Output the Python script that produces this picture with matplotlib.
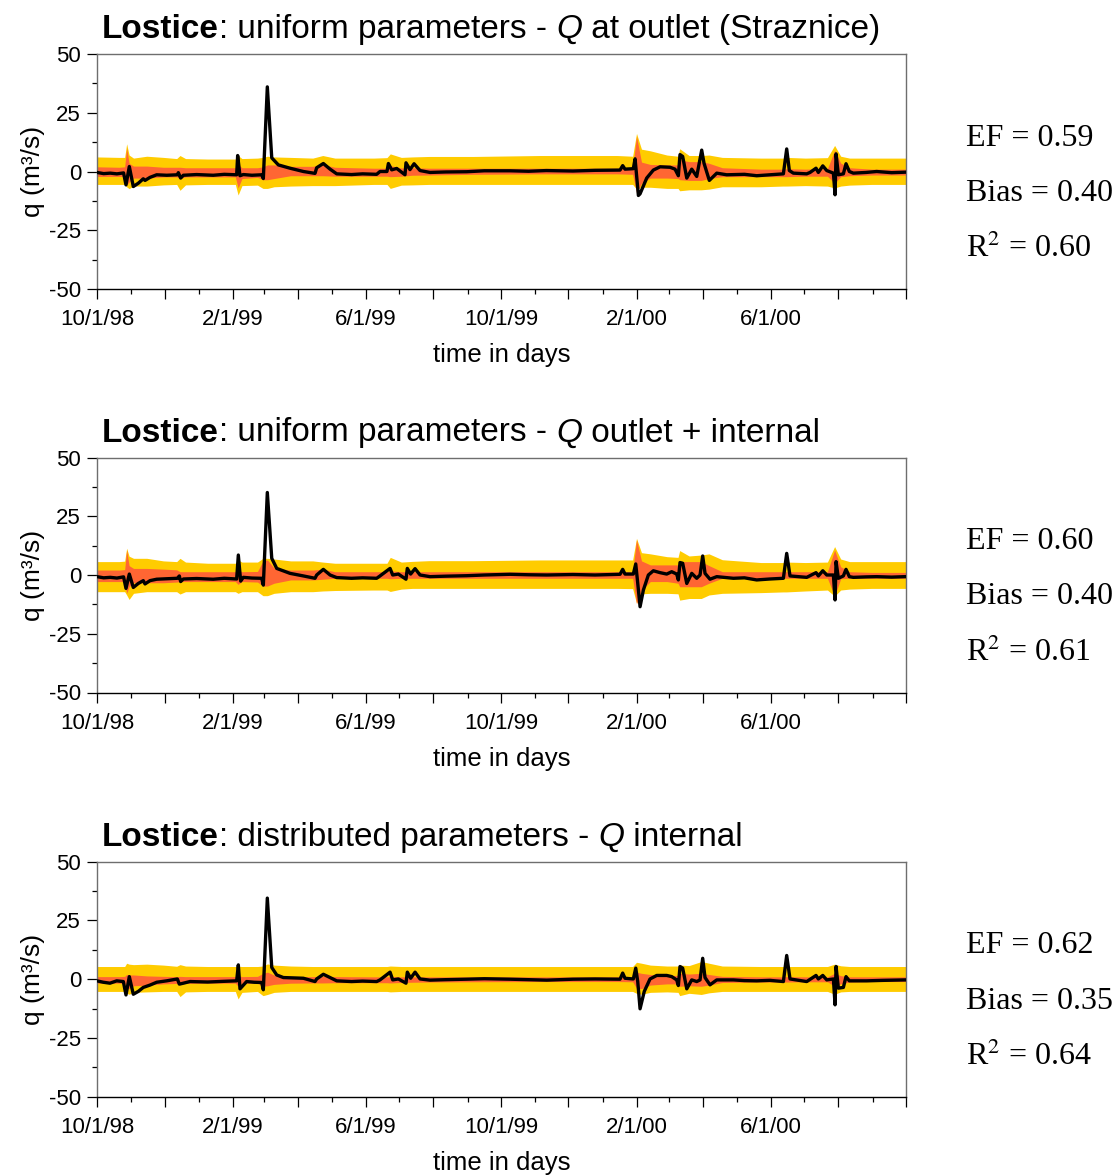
import datetime as dt
import matplotlib
matplotlib.use("Agg")
import matplotlib.pyplot as plt
import matplotlib.dates as mdates
from matplotlib.ticker import FixedLocator, FuncFormatter, NullFormatter

plt.rcParams['font.family'] = ['Liberation Sans', 'DejaVu Sans']
plt.rcParams['mathtext.fontset'] = 'stix'
plt.rcParams['axes.unicode_minus'] = False

# ---------------- data (days since 10/1/1998) ----------------
start_date = dt.datetime(1998, 10, 1)
end_date = dt.datetime(2000, 10, 1)

titles_rest = [": uniform parameters - ", ": uniform parameters - ", ": distributed parameters - "]
titles_tail = [" at outlet (Straznice)", " outlet + internal", " internal"]
stats_ef = ["0.59", "0.60", "0.62"]
stats_bias = ["0.40", "0.40", "0.35"]
stats_r2 = ["0.60", "0.61", "0.64"]

band_days = [0, 20, 25, 26.8, 29, 33, 45, 60, 72, 75, 80, 100, 125, 127.5, 131, 145, 150, 154,
             160, 175, 195, 204, 215, 250, 262, 265, 275, 285, 300, 340, 400, 470, 484, 487.5,
             492, 500, 515, 525, 526.5, 535, 546, 553, 565, 600, 620, 623, 640, 660, 666.5,
             672, 680, 700, 731]

# Panel 1
line1_days = [0, 6, 12, 18, 24, 26.2, 29.2, 32.8, 37.3, 41.8, 43.4, 47.9, 53.9, 63, 72.6, 73.5,
              75.6, 78, 90, 105, 115, 126.2, 127.1, 129.2, 132.2, 140, 148.8, 150.3, 153.9,
              157.9, 163.9, 174.4, 186.5, 197.0, 198.5, 204.5, 210.6, 216.6, 230, 240, 252.7,
              255.7, 262, 263.3, 266.3, 270.8, 278.3, 279.2, 282.8, 286.5, 291.9, 300.9, 315,
              334.1, 350, 373.2, 390, 406, 430, 450, 472.6, 475.0, 477.1, 484.6, 486.2, 489.2,
              490.7, 496.7, 502.7, 508.8, 517.8, 522.3, 525.3, 526.8, 529.2, 532.9, 537.4, 541.9,
              546.4, 548.5, 553.3, 560.0, 569.0, 585, 596.1, 608, 620.2, 623.2, 625.6, 629.2,
              641.3, 644.3, 649.7, 651.8, 655.8, 659.4, 665.4, 666.9, 667.8, 669.9, 674.4, 676.8,
              679.8, 683.4, 695, 704.5, 718, 730]
line1_vals = [-0.4, -0.9, -0.7, -1.0, -0.6, -5.7, 2.1, -6.4, -5.0, -3.1, -3.8, -2.5, -1.4, -1.6,
              -1.4, -0.5, -2.8, -1.6, -1.3, -1.6, -1.2, -1.4, 6.8, -1.8, -1.3, -1.6, -1.4, -3.0,
              36.0, 5.8, 2.8, 1.4, 0.0, -0.8, 1.6, 3.4, 1.0, -1.0, -1.3, -1.0, -1.2, 0.0, 0.0,
              3.4, 0.7, 1.3, -1.4, 3.7, 0.8, 3.3, 0.4, -0.4, -0.2, -0.1, 0.3, 0.3, 0.1, 0.4, 0.2,
              0.5, 0.6, 2.5, 1.0, 1.2, 5.4, -10.2, -9.5, -2.8, 0.6, 2.0, 1.8, 1.0, -1.8, 7.2, 6.4,
              -2.8, 1.0, -2.1, 9.1, 3.5, -3.8, -0.7, -1.4, -1.2, -1.8, -1.4, -1.0, 9.6, 0.4, -0.7,
              -1.0, -0.4, 1.4, -0.4, 2.4, 0.4, -0.7, -9.9, 7.5, -1.4, -1.0, 3.3, 0.0, -0.7, -0.4,
              0.0, -0.5, -0.3]
yel1_hi = [6.2, 6.0, 6.0, 11.8, 7.0, 5.7, 6.5, 6.0, 5.5, 6.8, 5.5, 5.3, 5.3, 6.8, 5.5, 5.7, 6.0,
           6.5, 6.2, 6.0, 5.7, 6.8, 5.7, 5.7, 5.9, 7.5, 6.0, 6.2, 6.4, 6.4, 6.8, 6.8, 6.5, 16.2,
           9.5, 8.8, 7.0, 6.5, 9.7, 6.8, 6.8, 7.0, 6.0, 5.7, 5.7, 6.0, 5.7, 5.9, 11.1, 6.5, 5.7,
           5.7, 5.7]
yel1_lo = [-5.5, -5.5, -5.5, -6.5, -7.3, -6.2, -6.2, -5.7, -5.5, -8.0, -5.7, -5.5, -5.5, -10.0,
           -6.0, -5.8, -7.2, -7.2, -6.5, -6.2, -6.0, -6.0, -6.0, -5.5, -5.5, -7.2, -5.8, -5.7,
           -5.5, -5.5, -5.5, -5.5, -5.5, -7.5, -6.7, -6.7, -7.2, -7.2, -8.2, -7.8, -7.8, -7.5,
           -6.5, -6.5, -6.2, -6.2, -6.0, -6.2, -7.0, -6.2, -5.8, -5.5, -5.5]
org1_hi = [2.0, 1.8, 2.0, 10.0, 3.5, 2.3, 2.3, 1.8, 1.8, 1.8, 1.6, 1.6, 1.6, 3.0, 1.6, 1.6, 2.0,
           2.8, 2.8, 2.2, 2.2, 3.0, 1.8, 1.4, 1.4, 2.5, 1.5, 1.6, 1.4, 1.4, 1.4, 1.4, 1.4, 15.0,
           4.0, 3.0, 2.8, 2.8, 5.0, 4.2, 4.2, 3.5, 1.6, 1.0, 1.0, 1.2, 1.0, 1.2, 9.0, 3.6, 1.6,
           1.0, 1.0]
org1_lo = [-2.1, -2.1, -2.1, -5.7, -4.5, -2.8, -2.8, -2.3, -2.3, -3.0, -2.3, -2.3, -2.3, -7.0,
           -3.0, -2.5, -3.5, -3.5, -3.0, -1.8, -1.8, -1.8, -2.0, -2.0, -2.0, -2.2, -2.0, -1.6,
           -1.5, -1.2, -1.0, -1.0, -1.2, -9.0, -5.0, -2.8, -2.8, -3.0, -3.5, -3.8, -3.8, -3.0,
           -2.2, -2.2, -2.2, -2.2, -2.0, -2.0, -5.0, -2.2, -1.8, -1.5, -1.5]

# Panel 2
line2_days = [0, 6, 12, 18, 24, 26.2, 29.2, 32.8, 37.3, 41.8, 43.4, 47.9, 53.9, 63, 72.6, 74.4,
              75.6, 78, 90, 105, 115, 126.2, 127.7, 129.8, 132.2, 140, 148.8, 150.3, 153.9,
              157.9, 162.4, 174.4, 186.5, 197, 198.5, 204.5, 210.6, 216.6, 230, 240, 252.7,
              255.7, 264.8, 267.2, 272.3, 279.2, 280.4, 283.4, 287.4, 291.9, 300.9, 315, 334.1,
              350, 373.2, 390, 406.4, 430, 450, 472.6, 475.0, 477.1, 484.6, 486.8, 488.6, 490.7,
              493.7, 498.2, 502.7, 508.8, 514.8, 519.3, 523.8, 525.3, 526.8, 529.2, 532.9, 537.4,
              541.9, 544.9, 547.3, 549.4, 553.9, 560, 575, 585, 596.1, 608, 620.2, 623.2, 626.2,
              641.3, 649.7, 651.8, 655.8, 659.4, 665.4, 666.9, 667.8, 669.9, 674.4, 676.8, 679.8,
              683.4, 695, 704.5, 718, 730]
line2_vals = [-0.7, -1.2, -1.0, -1.3, -0.8, -5.7, 0.4, -5.3, -3.6, -2.4, -3.8, -2.4, -1.8, -1.6,
              -1.4, -0.4, -2.8, -1.7, -1.5, -1.8, -1.4, -1.7, 8.5, -2.6, -1.0, -1.3, -1.4, -4.3,
              35.1, 7.1, 2.8, 0.7, -0.4, -1.4, 0.0, 2.4, 0.0, -1.1, -1.4, -1.2, -1.4, -0.4, 2.8,
              0.0, 0.4, -1.8, 2.8, 0.4, 2.7, 0.0, -0.7, -0.5, -0.3, 0.0, 0.3, 0.1, 0.0, 0.2, 0.0,
              0.3, 2.4, 0.4, 0.4, 4.7, -3.5, -13.5, -6.4, 0.0, 1.8, 1.0, 0.4, 1.4, 0.4, -2.1, 5.3,
              5.0, -3.6, 0.7, -1.4, 0.0, 8.1, 0.7, -1.8, -0.7, -1.4, -1.2, -2.1, -1.7, -1.4, 9.2,
              -0.4, -1.0, 1.0, -0.4, 1.8, 0.0, 0.0, -10.6, 5.7, -1.4, -0.4, 2.4, -0.7, -1.0, -0.8,
              -0.7, -0.9, -0.7]
yel2_hi = [5.7, 5.7, 5.9, 11.4, 8.0, 7.1, 7.1, 6.0, 5.7, 7.1, 5.5, 5.0, 5.0, 6.4, 5.5, 5.5, 7.1,
           7.1, 6.8, 6.0, 6.0, 5.5, 5.0, 5.0, 5.0, 7.5, 5.5, 5.8, 6.1, 6.1, 6.4, 6.4, 6.4, 15.6,
           9.5, 9.0, 7.8, 7.5, 10.4, 8.1, 8.5, 9.0, 6.5, 5.3, 5.3, 5.5, 5.3, 5.5, 12.1, 6.8, 5.7,
           5.7, 5.7]
yel2_lo = [-7.1, -7.1, -7.1, -8.5, -10.4, -7.8, -7.1, -7.1, -7.1, -8.1, -7.1, -7.1, -7.1, -7.8,
           -7.1, -7.1, -8.8, -8.8, -7.8, -7.1, -7.1, -6.8, -6.6, -6.4, -6.4, -7.0, -6.0, -5.7,
           -5.7, -5.7, -5.7, -5.7, -5.8, -12.0, -8.0, -7.8, -7.8, -8.0, -10.7, -10.0, -10.0,
           -8.5, -7.8, -7.5, -7.2, -7.2, -6.8, -6.4, -9.0, -6.4, -6.0, -5.7, -5.7]
org2_hi = [2.1, 2.1, 2.3, 10.7, 4.0, 2.8, 2.8, 2.5, 2.2, 1.4, 1.4, 1.4, 1.4, 2.0, 1.4, 1.5, 6.0,
           6.4, 3.0, 2.1, 2.1, 2.5, 1.4, 1.4, 1.4, 1.8, 1.4, 1.4, 1.4, 1.4, 1.4, 1.4, 1.4, 15.0,
           6.0, 4.3, 4.3, 4.3, 5.7, 5.7, 5.7, 4.0, 1.4, 1.4, 1.4, 1.4, 1.4, 1.4, 10.6, 3.5, 1.4,
           1.1, 1.1]
org2_lo = [-2.8, -2.8, -2.8, -7.8, -5.0, -3.3, -3.3, -3.3, -3.0, -2.8, -2.8, -2.8, -2.8, -4.0,
           -2.8, -3.0, -4.7, -4.7, -3.5, -2.1, -2.1, -1.8, -1.4, -1.4, -1.4, -1.6, -1.4, -1.4,
           -1.4, -1.4, -1.4, -1.4, -1.4, -12.2, -6.5, -2.8, -2.8, -3.5, -5.0, -5.0, -5.0, -3.5,
           -1.4, -1.4, -1.4, -1.4, -1.4, -1.4, -9.0, -1.6, -1.4, -1.4, -1.4]

# Panel 3
line3_days = [0, 5.7, 11.7, 17.8, 23.8, 26.2, 29.2, 32.8, 37.3, 41.8, 47.9, 53.9, 62.9, 72.6,
              74.4, 78, 84, 100, 115, 126.2, 127.7, 129.2, 135.2, 142, 148.8, 150.3, 153.9,
              157.9, 162.4, 168.4, 186.5, 197, 198.5, 204.5, 210.6, 216.6, 230, 240, 252.7,
              255.7, 264.8, 267.2, 272.3, 279.2, 280.4, 283.4, 287.4, 291.9, 300.9, 315, 334.1,
              350, 373.2, 390, 406.4, 430, 450, 472.6, 475.0, 477.1, 484.6, 486.8, 488.6, 490.7,
              494.5, 499.7, 505.8, 514.8, 519.3, 523.8, 525.3, 526.8, 529.2, 532.9, 537.4, 541.9,
              544.9, 547.3, 549.4, 553.9, 560, 575, 585, 596.1, 608, 620.2, 623.2, 626.2, 641.3,
              649.7, 651.8, 655.8, 659.4, 665.4, 666.9, 667.8, 669.9, 674.4, 676.8, 679.8, 695.5,
              710, 730]
line3_vals = [-0.7, -1.3, -1.7, -0.7, -1.0, -6.7, 1.1, -6.4, -5.2, -3.5, -2.5, -1.3, -0.7, 0.1,
              -2.1, -1.7, -1.0, -1.2, -0.9, -0.7, 6.1, -4.1, -1.0, -1.3, -1.4, -4.5, 34.5, 5.0,
              1.8, 0.7, 0.4, -1.0, 0.1, 2.1, 0.7, -0.7, -1.0, -0.8, -1.0, -0.3, 3.0, -0.3, 0.1,
              -1.7, 3.0, 0.4, 3.0, 0.1, -0.4, -0.2, 0.0, 0.2, 0.0, -0.2, -0.4, 0.0, 0.1, 0.0, 2.6,
              0.4, 0.1, 4.7, -1.0, -12.6, -5.2, 0.1, 1.6, 1.6, 1.1, -0.3, -2.7, 5.4, 4.7, -4.1,
              -0.3, -1.0, -0.3, 8.9, 0.7, -2.4, -0.3, -0.3, -0.6, -0.7, -0.5, -1.0, 10.1, 0.1,
              -1.0, 1.6, 0.1, 1.6, -0.3, 0.1, -10.9, 5.4, -3.8, -3.5, 1.1, -0.7, -0.7, -0.5, -0.3]
yel3_hi = [5.4, 5.4, 5.4, 6.8, 6.4, 6.2, 6.4, 6.0, 5.5, 6.2, 5.6, 5.4, 5.4, 5.5, 5.4, 5.4, 5.6,
           6.5, 6.0, 5.6, 5.4, 5.4, 5.4, 5.4, 5.4, 5.6, 5.4, 5.4, 5.4, 5.4, 5.4, 5.4, 5.4, 7.2,
           6.8, 6.0, 5.6, 5.6, 6.0, 5.8, 7.5, 6.8, 5.6, 5.4, 5.4, 5.4, 5.4, 5.4, 6.4, 5.7, 5.4,
           5.4, 5.4]
yel3_lo = [-5.2, -5.2, -5.2, -6.0, -6.4, -5.6, -5.4, -5.2, -5.2, -7.4, -5.4, -5.2, -5.2, -8.4,
           -5.6, -5.2, -7.0, -6.5, -5.6, -5.2, -5.2, -5.2, -5.2, -5.2, -5.2, -5.4, -5.2, -5.2,
           -5.2, -5.2, -5.2, -5.2, -5.2, -6.0, -6.4, -5.6, -5.4, -5.6, -7.0, -6.0, -6.5, -5.8,
           -5.2, -5.2, -5.2, -5.2, -5.2, -5.2, -6.4, -5.4, -5.2, -5.2, -5.2]
org3_hi = [1.1, 1.1, 1.2, 2.0, 1.8, 1.8, 1.4, 1.2, 1.1, 1.2, 1.1, 1.1, 1.1, 1.5, 1.1, 1.2, 2.5,
           3.0, 1.8, 1.2, 1.1, 1.2, 1.1, 1.0, 1.0, 1.2, 1.0, 1.0, 1.0, 1.0, 1.0, 1.0, 1.0, 3.0,
           2.5, 2.0, 1.6, 1.6, 2.5, 2.2, 2.5, 2.0, 1.2, 1.0, 1.0, 1.1, 1.0, 1.0, 2.5, 1.5, 1.0,
           1.0, 1.0]
org3_lo = [-1.7, -1.7, -1.8, -3.5, -4.0, -2.8, -2.5, -2.0, -1.8, -2.2, -1.8, -1.7, -1.7, -3.0,
           -1.8, -1.7, -3.0, -2.8, -2.2, -1.7, -1.6, -1.6, -1.5, -1.5, -1.5, -1.6, -1.4, -1.3,
           -1.2, -1.1, -1.0, -1.0, -1.1, -3.8, -4.0, -2.5, -2.0, -2.0, -3.0, -2.8, -3.0, -2.5,
           -1.4, -1.2, -1.2, -1.2, -1.1, -1.1, -3.0, -2.0, -1.2, -1.0, -1.0]

panels = [
    (line1_days, line1_vals, yel1_hi, yel1_lo, org1_hi, org1_lo),
    (line2_days, line2_vals, yel2_hi, yel2_lo, org2_hi, org2_lo),
    (line3_days, line3_vals, yel3_hi, yel3_lo, org3_hi, org3_lo),
]

y_major = [-50, -25, 0, 25, 50]
y_minor = [-37.5, -12.5, 12.5, 37.5]

# ---------------- figure ----------------
W, H = 1119, 1176
fig = plt.figure(figsize=(W / 100, H / 100), dpi=100)

ax_tops = [54, 457.5, 861.7]
ax_h = 235
ax_left, ax_right = 97, 906

base = mdates.date2num(start_date)
end = mdates.date2num(end_date)
YELLOW = '#FFCC00'
ORANGE = '#FF6633'
TFS = 24  # title font size


def fmt_date(x, pos):
    if x >= end - 1:
        return ""
    d = mdates.num2date(x)
    if d.month in (2, 6, 10):
        return f"{d.month}/{d.day}/{d.year % 100:02d}"
    return ""


for i, (ld, lv, yh, yl, oh, ol) in enumerate(panels):
    top = ax_tops[i]
    ax = fig.add_axes([ax_left / W, 1 - (top + ax_h) / H, (ax_right - ax_left) / W, ax_h / H])
    bx = [base + d for d in band_days]
    lx = [base + d for d in ld]
    ax.fill_between(bx, yl, yh, color=YELLOW, lw=0, zorder=1)
    ax.fill_between(bx, ol, oh, color=ORANGE, lw=0, zorder=2)
    ax.plot(lx, lv, color='black', lw=2.4, zorder=3)

    ax.set_xlim(base, end)
    ax.set_ylim(-50, 50)
    ax.yaxis.set_major_locator(FixedLocator(y_major))
    ax.yaxis.set_minor_locator(FixedLocator(y_minor))
    ax.xaxis.set_major_locator(mdates.MonthLocator(bymonth=[2, 4, 6, 8, 10, 12], bymonthday=1))
    ax.xaxis.set_minor_locator(mdates.MonthLocator(bymonthday=1))
    ax.xaxis.set_major_formatter(FuncFormatter(fmt_date))
    ax.xaxis.set_minor_formatter(NullFormatter())

    ax.tick_params(axis='both', which='major', direction='out', length=7.5, width=0.9,
                   labelsize=16, colors='black')
    ax.tick_params(axis='both', which='minor', direction='out', length=3.8, width=0.9)
    ax.tick_params(axis='x', which='major', pad=7)
    ax.tick_params(axis='y', which='major', pad=4)

    for s in ('top', 'right', 'left'):
        ax.spines[s].set_color('#6e6e6e')
        ax.spines[s].set_linewidth(1.0)
    ax.spines['bottom'].set_color('black')
    ax.spines['bottom'].set_linewidth(1.0)

    ax.set_ylabel("q (m³/s)", fontsize=19, labelpad=3)
    ax.set_xlabel("time in days", fontsize=18.5, labelpad=9.5)

    # title pieces
    ty = 1 - (top - 9) / H
    t1 = fig.text(102 / W, ty, "Lostice", fontsize=TFS, fontweight='bold', va='bottom', ha='left')
    t2 = ax.annotate(titles_rest[i], xy=(1, 0), xycoords=t1, fontsize=TFS, va='bottom', ha='left')
    t3 = ax.annotate("Q", xy=(1, 0), xycoords=t2, fontsize=TFS, style='italic', va='bottom', ha='left')
    ax.annotate(titles_tail[i], xy=(1, 0), xycoords=t3, fontsize=TFS, va='bottom', ha='left')

    # stats
    sx = 966 / W
    for j, txt in enumerate([f"EF = {stats_ef[i]}", f"Bias = {stats_bias[i]}",
                             f"R$^2$ = {stats_r2[i]}"]):
        cy = top + 84 + 55.5 * j
        fig.text(sx, 1 - cy / H, txt, fontsize=23, family='Liberation Serif',
                 va='center', ha='left')

fig.savefig("out.png", dpi=100)
